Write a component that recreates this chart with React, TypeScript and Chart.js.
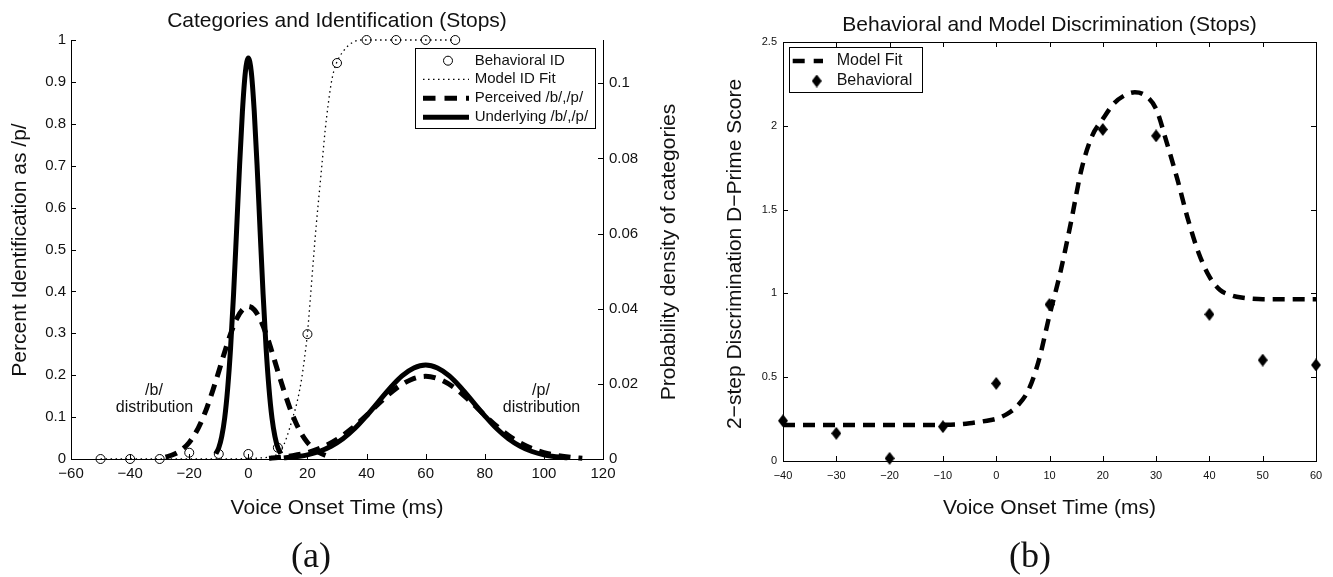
import React, { useEffect, useRef } from "react";
import { Chart, registerables } from "chart.js";

Chart.register(...registerables);

// ---------------- Panel (a) data ----------------
const aXTickValues = [-60, -40, -20, 0, 20, 40, 60, 80, 100, 120];
const aYTickValues = [0, 0.1, 0.2, 0.3, 0.4, 0.5, 0.6, 0.7, 0.8, 0.9, 1];
const aY2TickValues = [0, 0.02, 0.04, 0.06, 0.08, 0.1];

// Behavioral identification (circles)
const idStimuli = [-50, -40, -30, -20, -10, 0, 10, 20, 30, 40, 50, 60, 70];
const idBehavioral = [0, 0, 0, 0.015, 0.012, 0.012, 0.027, 0.298, 0.945, 1, 1, 1, 1];

// Model identification fit (dotted)
const idFitX = [-50, -40, -30, -20, -10, 0, 5, 8, 10, 11, 12, 13, 14, 15, 16, 17, 18, 19, 20, 21, 22, 23, 24, 25, 26, 27, 28, 29, 30, 31, 32, 33, 34, 35, 36, 38, 40, 50, 60, 70];
const idFitY = [0, 0, 0, 0, 0, 0.001, 0.003, 0.006, 0.012, 0.02, 0.034, 0.052, 0.074, 0.098, 0.122, 0.152, 0.19, 0.24, 0.3, 0.385, 0.475, 0.56, 0.635, 0.71, 0.785, 0.845, 0.895, 0.928, 0.948, 0.962, 0.972, 0.981, 0.988, 0.993, 0.997, 1, 1, 1, 1, 1];

// Perceived /b/ (dashed, density axis)
const percBX = [-28, -26, -24, -22, -20, -18, -16, -14, -12, -10, -8, -6, -4, -2, 0, 2, 4, 6, 8, 10, 12, 14, 16, 18, 20, 22, 24, 26, 28];
const percBY = [0.0005, 0.001, 0.0017, 0.0028, 0.0044, 0.0067, 0.0098, 0.0137, 0.0183, 0.0233, 0.0285, 0.0333, 0.0372, 0.0397, 0.0406, 0.0397, 0.0372, 0.0333, 0.0285, 0.0233, 0.0183, 0.0137, 0.0098, 0.0067, 0.0044, 0.0028, 0.0017, 0.001, 0.0005];

// Perceived /p/ (dashed, density axis)
const percPX = [7, 10, 15, 20, 25, 30, 35, 40, 45, 50, 55, 60, 65, 70, 75, 80, 85, 90, 95, 100, 105, 110, 113];
const percPY = [0.0002, 0.0004, 0.0009, 0.0017, 0.0031, 0.0052, 0.0081, 0.0116, 0.0154, 0.0188, 0.0211, 0.022, 0.0211, 0.0188, 0.0154, 0.0116, 0.0081, 0.0052, 0.0031, 0.0017, 0.0009, 0.0004, 0.0002];

// Underlying /b/ (solid, density axis)
const undBX = [-11, -10, -9, -8, -7, -6, -5, -4, -3, -2, -1, 0, 1, 2, 3, 4, 5, 6, 7, 8, 9, 10, 11];
const undBY = [0.0014, 0.003, 0.006, 0.0109, 0.0187, 0.0296, 0.0438, 0.0604, 0.0775, 0.0925, 0.103, 0.1067, 0.103, 0.0925, 0.0775, 0.0604, 0.0438, 0.0296, 0.0187, 0.0109, 0.006, 0.003, 0.0014];

// Underlying /p/ (solid, density axis)
const undPX = [12, 16, 20, 24, 28, 32, 36, 40, 44, 48, 52, 56, 60, 64, 68, 72, 76, 80, 84, 88, 92, 96, 100, 104, 108];
const undPY = [0.0003, 0.0006, 0.0011, 0.002, 0.0034, 0.0054, 0.0081, 0.0115, 0.0152, 0.0189, 0.0221, 0.0242, 0.025, 0.0242, 0.0221, 0.0189, 0.0152, 0.0115, 0.0081, 0.0054, 0.0034, 0.002, 0.0011, 0.0006, 0.0003];

// ---------------- Panel (b) data ----------------
const bXTickValues = [-40, -30, -20, -10, 0, 10, 20, 30, 40, 50, 60];
const bYTickValues = [0, 0.5, 1, 1.5, 2, 2.5];

const discStimuli = [-40, -30, -20, -10, 0, 10, 20, 30, 40, 50, 60];
const discBehavioral = [0.24, 0.165, 0.016, 0.205, 0.463, 0.934, 1.978, 1.94, 0.875, 0.602, 0.573];

const discFitX = [-40, -35, -30, -25, -20, -15, -10, -7, -5, -3, -1, 0, 2, 4, 6, 8, 10, 12, 14, 16, 18, 20, 22, 24, 26, 28, 30, 32, 34, 36, 38, 40, 42, 44, 46, 48, 50, 55, 60];
const discFitY = [0.215, 0.215, 0.215, 0.215, 0.215, 0.215, 0.216, 0.219, 0.225, 0.234, 0.245, 0.252, 0.28, 0.33, 0.42, 0.6, 0.87, 1.12, 1.42, 1.74, 1.94, 2.04, 2.13, 2.18, 2.2, 2.18, 2.1, 1.9, 1.68, 1.44, 1.24, 1.1, 1.02, 0.99, 0.975, 0.968, 0.965, 0.965, 0.965];

// ---------------- helpers ----------------
const SANS = "'Liberation Sans', Arial, Helvetica, sans-serif";
const SERIF = "'Liberation Serif', 'Times New Roman', serif";
const INK = "#111";

const pts = (xs: number[], ys: number[]) => xs.map((x, i) => ({ x, y: ys[i] }));
const fmt = (v: any) => String(v).replace("-", "\u2212");
const fixTicks = (vals: number[]) => (scale: any) => {
  scale.ticks = vals.map((v) => ({ value: v }));
};

function seg(ctx: CanvasRenderingContext2D, x1: number, y1: number, x2: number, y2: number) {
  ctx.beginPath();
  ctx.moveTo(x1, y1);
  ctx.lineTo(x2, y2);
  ctx.stroke();
}

function text(ctx: CanvasRenderingContext2D, s: string, x: number, y: number, font: string, align: CanvasTextAlign = "center", baseline: CanvasTextBaseline = "alphabetic") {
  ctx.font = font;
  ctx.fillStyle = INK;
  ctx.textAlign = align;
  ctx.textBaseline = baseline;
  ctx.fillText(s, x, y);
}

function rotText(ctx: CanvasRenderingContext2D, s: string, x: number, y: number, font: string) {
  ctx.save();
  ctx.translate(x, y);
  ctx.rotate(-Math.PI / 2);
  text(ctx, s, 0, 0, font);
  ctx.restore();
}

function makeDiamond(w: number, h: number) {
  const c = document.createElement("canvas");
  c.width = w;
  c.height = h;
  const g = c.getContext("2d")!;
  g.fillStyle = "#000";
  g.beginPath();
  g.moveTo(w / 2, 0);
  g.lineTo(w, h / 2);
  g.lineTo(w / 2, h);
  g.lineTo(0, h / 2);
  g.closePath();
  g.fill();
  return c;
}

function drawTicks(ctx: CanvasRenderingContext2D, chart: any, id: string, side: string, len: number) {
  const sc = chart.scales[id];
  const { left, right, top, bottom } = chart.chartArea;
  sc.ticks.forEach((t: any) => {
    const p = Math.round(sc.getPixelForValue(t.value)) + 0.5;
    if (side === "bottom") seg(ctx, p, bottom, p, bottom - len);
    if (side === "top") seg(ctx, p, top, p, top + len);
    if (side === "left") seg(ctx, left, p, left + len, p);
    if (side === "right") seg(ctx, right, p, right - len, p);
  });
}

const lineBase = {
  showLine: true,
  pointRadius: 0,
  pointHoverRadius: 0,
  borderColor: "#000",
  backgroundColor: "#000",
  fill: false,
  clip: false as any,
  cubicInterpolationMode: "monotone" as const,
};

const tickFont = (size: number) => ({ family: SANS, size });

// ---------------- plugins ----------------
const decorA = {
  id: "decorA",
  afterDraw(chart: any) {
    const ctx: CanvasRenderingContext2D = chart.ctx;
    ctx.save();
    ctx.strokeStyle = "#000";
    ctx.lineWidth = 1;
    ctx.setLineDash([]);
    drawTicks(ctx, chart, "x", "bottom", 5);
    drawTicks(ctx, chart, "y", "left", 5);
    drawTicks(ctx, chart, "y2", "right", 5);

    text(ctx, "Categories and Identification (Stops)", 337, 27, `21px ${SANS}`);
    text(ctx, "Voice Onset Time (ms)", 337, 513.5, `21px ${SANS}`);
    rotText(ctx, "Percent Identification as /p/", 25.5, 250, `21px ${SANS}`);
    rotText(ctx, "Probability density of categories", 675, 252, `21px ${SANS}`);
    text(ctx, "(a)", 311, 566.5, `36px ${SERIF}`);
    text(ctx, "/b/", 154, 395, `16px ${SANS}`);
    text(ctx, "distribution", 154.5, 411.7, `16px ${SANS}`);
    text(ctx, "/p/", 541, 395, `16px ${SANS}`);
    text(ctx, "distribution", 541.5, 411.7, `16px ${SANS}`);

    // legend
    const bx = 415.5, by = 48.5, bw = 180, bh = 80;
    ctx.fillStyle = "#fff";
    ctx.fillRect(bx, by, bw, bh);
    ctx.strokeStyle = "#000";
    ctx.lineWidth = 1;
    ctx.strokeRect(bx, by, bw, bh);
    const rows = [60.7, 79.3, 98.3, 117.3];
    const labels = ["Behavioral ID", "Model ID Fit", "Perceived /b/,/p/", "Underlying /b/,/p/"];
    ctx.beginPath();
    ctx.arc(448, rows[0], 4.5, 0, Math.PI * 2);
    ctx.stroke();
    ctx.lineWidth = 1.3;
    ctx.setLineDash([1.5, 3.5]);
    seg(ctx, 423, rows[1], 469, rows[1]);
    ctx.lineWidth = 5;
    ctx.setLineDash([12.5, 9]);
    seg(ctx, 423, rows[2], 469, rows[2]);
    ctx.setLineDash([]);
    seg(ctx, 423, rows[3], 469, rows[3]);
    labels.forEach((l, i) => text(ctx, l, 474.7, rows[i], `15px ${SANS}`, "left", "middle"));
    ctx.restore();
  },
};

const makeDecorB = (diamond: HTMLCanvasElement) => ({
  id: "decorB",
  afterDraw(chart: any) {
    const ctx: CanvasRenderingContext2D = chart.ctx;
    const { left, right, top, bottom } = chart.chartArea;
    ctx.save();
    ctx.strokeStyle = "#000";
    ctx.lineWidth = 1;
    ctx.setLineDash([]);
    seg(ctx, left, top + 0.5, right + 0.5, top + 0.5);
    seg(ctx, right + 0.5, top, right + 0.5, bottom + 0.5);
    drawTicks(ctx, chart, "x", "bottom", 5);
    drawTicks(ctx, chart, "x", "top", 5);
    drawTicks(ctx, chart, "y", "left", 5);
    drawTicks(ctx, chart, "y", "right", 5);

    text(ctx, "Behavioral and Model Discrimination (Stops)", 1049.5, 30.7, `21px ${SANS}`);
    text(ctx, "Voice Onset Time (ms)", 1049.5, 513.5, `21px ${SANS}`);
    rotText(ctx, "2\u2212step Discrimination D\u2212Prime Score", 741, 254, `21px ${SANS}`);
    text(ctx, "(b)", 1030, 566.5, `36px ${SERIF}`);

    const bx = 789.5, by = 47.5, bw = 133, bh = 45;
    ctx.fillStyle = "#fff";
    ctx.fillRect(bx, by, bw, bh);
    ctx.strokeRect(bx, by, bw, bh);
    ctx.lineWidth = 4.5;
    ctx.setLineDash([12, 9]);
    seg(ctx, 792.7, 61, 823, 61);
    ctx.setLineDash([]);
    ctx.drawImage(diamond, 816.7 - diamond.width / 2, 81 - diamond.height / 2);
    text(ctx, "Model Fit", 836.7, 61, `16px ${SANS}`, "left", "middle");
    text(ctx, "Behavioral", 836.7, 81, `16px ${SANS}`, "left", "middle");
    ctx.restore();
  },
});

function configA(): any {
  const axisCommon = {
    grid: { display: false, drawTicks: false },
    border: { display: true, color: "#000", width: 1 },
  };
  return {
    type: "scatter",
    data: {
      datasets: [
        {
          label: "Behavioral ID",
          data: pts(idStimuli, idBehavioral),
          yAxisID: "y",
          showLine: false,
          pointStyle: "circle",
          pointRadius: 4.5,
          pointHoverRadius: 4.5,
          pointBorderWidth: 1,
          pointBorderColor: "#000",
          pointBackgroundColor: "rgba(0,0,0,0)",
          clip: false,
        },
        { ...lineBase, label: "Model ID Fit", data: pts(idFitX, idFitY), yAxisID: "y", borderWidth: 1.3, borderDash: [1.5, 3.5] },
        { ...lineBase, label: "Underlying /b/,/p/", data: pts(undBX, undBY), yAxisID: "y2", borderWidth: 5 },
        { ...lineBase, label: "Underlying /p/", data: pts(undPX, undPY), yAxisID: "y2", borderWidth: 5 },
        { ...lineBase, label: "Perceived /b/,/p/", data: pts(percBX, percBY), yAxisID: "y2", borderWidth: 5, borderDash: [12, 8] },
        { ...lineBase, label: "Perceived /p/", data: pts(percPX, percPY), yAxisID: "y2", borderWidth: 5, borderDash: [12, 8] },
      ],
    },
    options: {
      animation: false,
      responsive: false,
      events: [],
      layout: { padding: { left: 0, top: 40, right: 0, bottom: 0 } },
      plugins: { legend: { display: false }, tooltip: { enabled: false }, title: { display: false } },
      scales: {
        x: {
          type: "linear",
          position: "bottom",
          min: -60,
          max: 120,
          afterBuildTicks: fixTicks(aXTickValues),
          afterFit: (s: any) => { s.height = 118; },
          ticks: { font: tickFont(15), color: INK, padding: 6, maxRotation: 0, autoSkip: false, callback: fmt },
          ...axisCommon,
        },
        y: {
          type: "linear",
          position: "left",
          min: 0,
          max: 1,
          afterBuildTicks: fixTicks(aYTickValues),
          afterFit: (s: any) => { s.width = 71; },
          ticks: { font: tickFont(15), color: INK, padding: 5, autoSkip: false, callback: fmt },
          ...axisCommon,
        },
        y2: {
          type: "linear",
          position: "right",
          min: 0,
          max: 0.1115,
          afterBuildTicks: fixTicks(aY2TickValues),
          afterFit: (s: any) => { s.width = 730; },
          ticks: { font: tickFont(15), color: INK, padding: 6, autoSkip: false, callback: fmt },
          ...axisCommon,
        },
      },
    },
    plugins: [decorA],
  };
}

function configB(diamond: HTMLCanvasElement): any {
  const axisCommon = {
    grid: { display: false, drawTicks: false },
    border: { display: true, color: "#000", width: 1 },
  };
  return {
    type: "scatter",
    data: {
      datasets: [
        {
          label: "Behavioral",
          data: pts(discStimuli, discBehavioral),
          showLine: false,
          pointStyle: diamond,
          pointRadius: 6,
          pointHoverRadius: 6,
          clip: false,
        },
        { ...lineBase, label: "Model Fit", data: pts(discFitX, discFitY), borderWidth: 4.5, borderDash: [12, 8] },
      ],
    },
    options: {
      animation: false,
      responsive: false,
      events: [],
      layout: { padding: { left: 0, top: 42, right: 17, bottom: 0 } },
      plugins: { legend: { display: false }, tooltip: { enabled: false }, title: { display: false } },
      scales: {
        x: {
          type: "linear",
          position: "bottom",
          min: -40,
          max: 60,
          afterBuildTicks: fixTicks(bXTickValues),
          afterFit: (s: any) => { s.height = 116; },
          ticks: { font: tickFont(11), color: INK, padding: 8, maxRotation: 0, autoSkip: false, callback: fmt },
          ...axisCommon,
        },
        y: {
          type: "linear",
          position: "left",
          min: 0,
          max: 2.5,
          afterBuildTicks: fixTicks(bYTickValues),
          afterFit: (s: any) => { s.width = 783; },
          ticks: { font: tickFont(11), color: INK, padding: 6, autoSkip: false, callback: fmt },
          ...axisCommon,
        },
      },
    },
    plugins: [makeDecorB(diamond)],
  };
}

export default function App() {
  const refA = useRef<HTMLCanvasElement>(null);
  const refB = useRef<HTMLCanvasElement>(null);

  useEffect(() => {
    const diamond = makeDiamond(10, 13);
    const a = new Chart(refA.current!, configA());
    const b = new Chart(refB.current!, configB(diamond));
    return () => {
      a.destroy();
      b.destroy();
    };
  }, []);

  const cs: React.CSSProperties = { position: "absolute", left: 0, top: 0, width: 1333, height: 577 };
  return (
    <div style={{ position: "fixed", left: 0, top: 0, width: 1333, height: 577, background: "#fff" }}>
      <canvas ref={refA} width={1333} height={577} style={cs} />
      <canvas ref={refB} width={1333} height={577} style={cs} />
    </div>
  );
}
